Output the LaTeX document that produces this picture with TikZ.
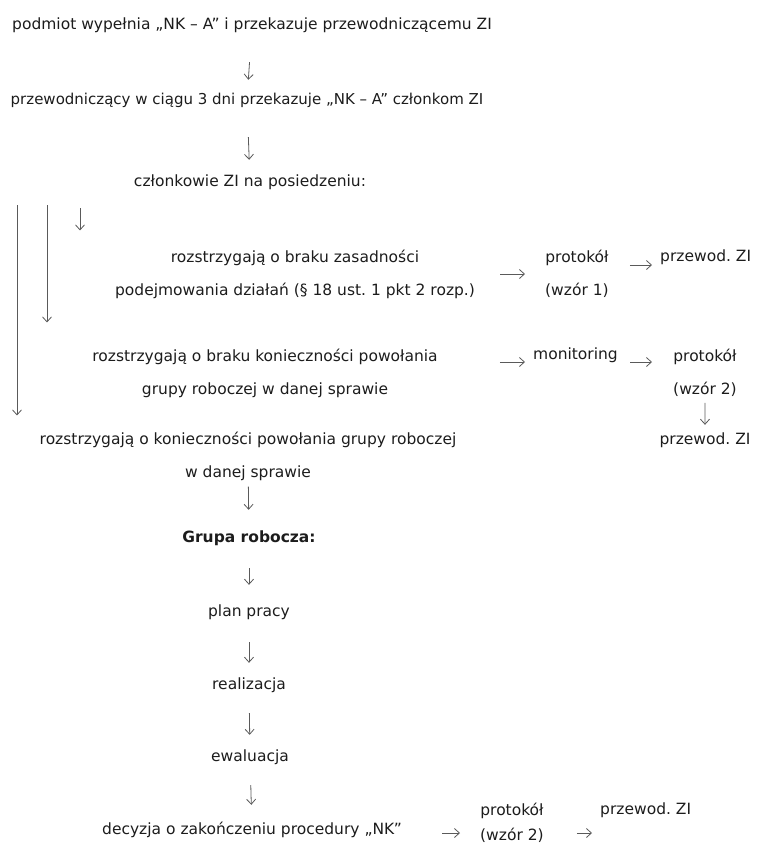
\documentclass[tikz,border=0pt]{standalone}
\usepackage{fontspec}
\setmainfont{DejaVu Sans}
\usetikzlibrary{arrows.meta}
\definecolor{ink}{HTML}{1C1C1C}
\definecolor{arrgray}{HTML}{5A5A5A}
\frenchspacing

\begin{document}
\begin{tikzpicture}[x=1pt,y=-1pt,->,>={Straight Barb[length=5pt,width=9pt]},
        every node/.style={font=\fontsize{15.5}{33}\selectfont,text=ink,inner sep=3pt},
        every edge/.style={draw=arrgray,line width=.8pt},
        line/.style={text height=12pt,text depth=4pt},
        two/.style={align=center}]
        \useasboundingbox (0,0) rectangle (757,844);
        % main column
        \node[line] (podmiot)    at (252,25)  {podmiot wypełnia „NK – A” i przekazuje przewodniczącemu ZI};
        \node[line,font=\fontsize{15}{33}\selectfont] (przewodn) at (247,100) {przewodniczący w ciągu 3 dni przekazuje „NK – A” członkom ZI};
        \node[line] (czlonkowie) at (250,182) {członkowie ZI na posiedzeniu:};
        \node[two]  (brak1)      at (295,274) {rozstrzygają o braku zasadności\\podejmowania działań (§ 18 ust. 1 pkt 2 rozp.)};
        \node[two]  (brak2)      at (265,373) {rozstrzygają o braku konieczności powołania\\grupy roboczej w danej sprawie};
        \node[two]  (powolanie)  at (248,456) {rozstrzygają o konieczności powołania grupy roboczej\\w danej sprawie};
        \node[line] (grupa)      at (249,538) {\bfseries Grupa robocza:};
        \node[line] (plan)       at (249,612) {plan pracy};
        \node[line] (realizacja) at (249,685) {realizacja};
        \node[line] (ewaluacja)  at (250,757) {ewaluacja};
        \node[line] (decyzja)    at (252,830) {decyzja o zakończeniu procedury „NK”};
        % right side
        \node[two,anchor=west]  (protokol1)  at (542,274) {protokół\\(wzór 1)};
        \node[line,anchor=west] (przewod1)   at (657,257) {przewod. ZI};
        \node[line,anchor=west] (monitoring) at (530,355) {monitoring};
        \node[two,anchor=west]  (protokol2)  at (670,373) {protokół\\(wzór 2)};
        \node[line] (przewod2)   at (705,440) {przewod. ZI};
        \node[two,anchor=west,font=\fontsize{15.5}{25}\selectfont] (protokol3) at (477,823) {protokół\\(wzór 2)};
        \node[line,anchor=west] (przewod3)   at (597,810) {przewod. ZI};
        \coordinate (l1) at (17,205);
        \coordinate (l2) at (47,205);
        \coordinate (l3) at (80,208);
        \path
          (podmiot) edge[shorten <=26pt,shorten >=9pt] (przewodn)
          (przewodn) edge[shorten <=26pt,shorten >=11pt] (czlonkowie)
          (l3) edge[shorten >=16pt] (l3 |- brak1.north)
          (l2) edge[shorten >=23pt] (l2 |- brak2.north)
          (l1) edge[shorten >=13pt] (l1 |- powolanie.north)
          (powolanie) edge[shorten <=3pt,shorten >=17pt] (grupa)
          (grupa) edge[shorten <=19pt,shorten >=16pt] (plan)
          (plan) edge[shorten <=19pt,shorten >=11pt] (realizacja)
          (realizacja) edge[shorten <=17pt,shorten >=11pt] (ewaluacja)
          (ewaluacja) edge[shorten <=17pt,shorten >=14pt] (decyzja)
          (brak1.east) edge[shorten <=22pt,shorten >=17pt] (protokol1.west)
          ([yshift=-8pt]przewod1.west -| protokol1.east) edge[shorten <=18pt,shorten >=5pt] ([yshift=-8pt]przewod1.west)
          ([yshift=-7pt]monitoring.west -| brak2.east) edge[shorten <=59pt,shorten >=5pt] ([yshift=-7pt]monitoring.west)
          ([yshift=-7pt]monitoring.east) edge[shorten <=9pt,shorten >=18pt] ([yshift=-7pt]monitoring.east -| protokol2.west)
          (protokol2) edge[shorten <=3pt,shorten >=4pt] (przewod2)
          ([yshift=-3pt]decyzja.east) edge[shorten <=37pt,shorten >=17pt] ([yshift=-3pt]decyzja.east -| protokol3.west)
          ([yshift=-3pt]decyzja.east -| protokol3.east) edge[shorten <=30pt,shorten >=5pt] ([yshift=-3pt]decyzja.east -| przewod3.west)
          ;
      \end{tikzpicture}
\end{document}
